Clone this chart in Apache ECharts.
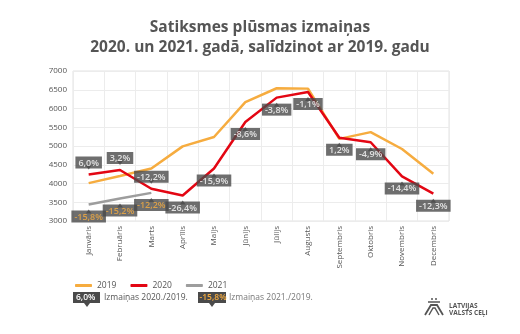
<!DOCTYPE html>
<html><head><meta charset="utf-8">
<script src="https://cdn.jsdelivr.net/npm/echarts@6/dist/echarts.min.js"></script>
<style>html,body{margin:0;padding:0;background:#fff}#c{width:520px;height:334px}</style>
</head><body><div id="c"></div>
<script>
const months = ['Janvāris','Februāris','Marts','Aprīlis','Maijs','Jūnijs','Jūlijs','Augusts','Septembris','Oktobris','Novembris','Decembris'];
const v2019 = [4010, 4200, 4400, 4990, 5240, 6170, 6540, 6530, 5190, 5370, 4920, 4260];
const v2020 = [4240, 4360, 3860, 3680, 4400, 5640, 6290, 6440, 5220, 5100, 4190, 3730];
const v2021 = [3440, 3600, 3750];
const ch2020 = ['6,0%','3,2%','-12,2%','-26,4%','-15,9%','-8,6%','-3,8%','-1,1%','1,2%','-4,9%','-14,4%','-12,3%'];
const ch2021 = ['-15,8%','-15,2%','-12,2%'];
const yTicks = [3000, 7000, 500];

const C19 = '#F6AC3F', C20 = '#E30613', C21 = '#9D9D9D', BOX = '#4A4A4A';
const FONT = '"Open Sans", "Noto Sans", sans-serif';

function labelData(vals, texts, aboveIdx, color) {
  return vals.map((v, i) => {
    const above = aboveIdx.includes(i);
    return {
      value: v,
      label: {
        show: true, position: above ? 'top' : 'bottom', distance: 6,
        formatter: texts[i], color: color, backgroundColor: BOX,
        padding: [2, 3, 1, 3], fontSize: 9, fontWeight: 600, fontFamily: FONT
      }
    };
  });
}
function pointerData(vals, aboveIdx) {
  return vals.map((v, i) => {
    const above = aboveIdx.includes(i);
    return { value: v, symbolRotate: above ? 180 : 0, symbolOffset: [0, above ? -7 : 7] };
  });
}

const chart = echarts.init(document.getElementById('c'));
chart.setOption({
  backgroundColor: '#fff',
  animation: false,
  title: {
    text: 'Satiksmes plūsmas izmaiņas\n2020. un 2021. gadā, salīdzinot ar 2019. gadu',
    left: 'center', top: 13,
    textStyle: { fontFamily: FONT, fontSize: 15.5, fontWeight: 'bold', color: '#555', lineHeight: 20 }
  },
  legend: {
    left: 70, top: 276, icon: 'roundRect', itemWidth: 17, itemHeight: 3, itemGap: 14,
    textStyle: { fontFamily: FONT, fontSize: 8.5, color: '#555' },
    data: ['2019', '2020', '2021']
  },
  grid: { left: 73, right: 71, top: 71, height: 150, show: true, borderColor: '#e2e2e2', borderWidth: 1 },
  xAxis: {
    type: 'category', data: months, boundaryGap: true,
    axisLine: { show: false }, axisTick: { show: false },
    splitLine: { show: true, lineStyle: { color: '#ececec' } },
    axisLabel: { rotate: 90, fontFamily: FONT, fontSize: 8, color: '#555', interval: 0, margin: 5 }
  },
  yAxis: {
    type: 'value', min: yTicks[0], max: yTicks[1], interval: yTicks[2],
    axisLine: { show: false }, axisTick: { show: false },
    splitLine: { lineStyle: { color: '#ececec' } },
    axisLabel: { fontFamily: FONT, fontSize: 8, color: '#555', margin: 6, formatter: v => String(v) }
  },
  series: [
    { name: '2019', type: 'line', data: v2019, showSymbol: false, symbol: 'none',
      lineStyle: { color: C19, width: 2.5 }, itemStyle: { color: C19 }, z: 2 },
    { name: '2020', type: 'line', data: v2020, showSymbol: false, symbol: 'none',
      lineStyle: { color: C20, width: 2.5 }, itemStyle: { color: C20 }, z: 3 },
    { name: '2021', type: 'line', data: v2021, showSymbol: false, symbol: 'none',
      lineStyle: { color: C21, width: 2.5 }, itemStyle: { color: C21 }, z: 3 },
    { type: 'scatter', data: pointerData(v2020, [0,1,2]), symbol: 'triangle', symbolSize: [6, 4],
      itemStyle: { color: BOX }, z: 9, silent: true },
    { type: 'scatter', data: pointerData(v2021, []), symbol: 'triangle', symbolSize: [6, 4],
      itemStyle: { color: BOX }, z: 9, silent: true },
    { type: 'scatter', data: labelData(v2020, ch2020, [0,1,2], '#fff'), symbolSize: 0,
      itemStyle: { color: 'transparent' }, z: 10, silent: true },
    { type: 'scatter', data: labelData(v2021, ch2021, [], '#F6AC3F'), symbolSize: 0,
      itemStyle: { color: 'transparent' }, z: 10, silent: true }
  ],
  graphic: [
    { type: 'rect', left: 73, top: 292, shape: { width: 27, height: 11 }, style: { fill: BOX } },
    { type: 'polygon', shape: { points: [[84, 303], [90, 303], [87, 307]] }, style: { fill: BOX } },
    { type: 'text', left: 76, top: 293.5, style: { text: '6,0%', fill: '#fff', font: '600 8.5px ' + FONT } },
    { type: 'text', left: 104, top: 293.5, style: { text: 'Izmaiņas 2020./2019.', fill: '#555', font: '8.5px ' + FONT } },
    { type: 'rect', left: 198, top: 292, shape: { width: 28, height: 11 }, style: { fill: BOX } },
    { type: 'polygon', shape: { points: [[209, 303], [215, 303], [212, 307]] }, style: { fill: BOX } },
    { type: 'text', left: 199.5, top: 293.5, style: { text: '-15,8%', fill: '#F6AC3F', font: '600 8.5px ' + FONT } },
    { type: 'text', left: 229, top: 293.5, style: { text: 'Izmaiņas 2021./2019.', fill: '#777', font: '8.5px ' + FONT } },
    { type: 'text', left: 449, top: 302, style: { text: 'LATVIJAS\nVALSTS CEĻI', fill: '#555', font: 'bold 6.5px ' + FONT, lineHeight: 7.5 } },
    { type: 'polyline', shape: { points: [[425, 315], [431, 305], [437, 305], [443, 315]] }, style: { stroke: '#555', lineWidth: 1.8, fill: 'none' } },
    { type: 'polyline', shape: { points: [[429, 315], [433, 308], [435, 308], [439, 315]] }, style: { stroke: '#555', lineWidth: 1.4, fill: 'none' } },
    { type: 'line', shape: { x1: 428, y1: 302, x2: 440, y2: 302 }, style: { stroke: '#555', lineWidth: 1.5 } },
    { type: 'circle', shape: { cx: 432, cy: 299, r: 1 }, style: { fill: '#555' } },
    { type: 'circle', shape: { cx: 436, cy: 299, r: 1 }, style: { fill: '#555' } }
  ]
});
</script></body></html>
